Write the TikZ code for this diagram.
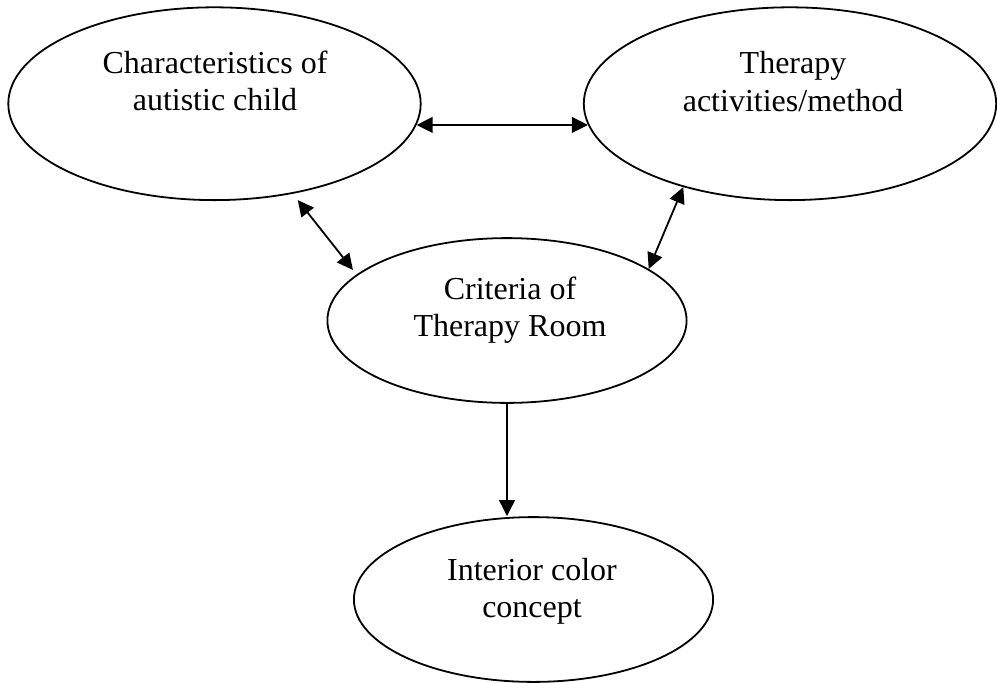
\documentclass[tikz,border=0pt]{standalone}
\usepackage{fontspec}
\setmainfont{Liberation Serif}
\usetikzlibrary{shapes.geometric,arrows.meta}

\tikzset{
  bubble/.style={draw, ellipse, line width=0.9pt, inner sep=0pt},
  bigbubble/.style={bubble, minimum width=206.2pt, minimum height=96.4pt},
  smallbubble/.style={bubble, minimum width=179.6pt, minimum height=82.4pt},
  lbl/.style={align=center, inner sep=0pt, font=\fontsize{16}{18.6}\selectfont},
  tip/.tip={Triangle[length=8pt,width=7.8pt]},
  link/.style={line width=0.9pt, -tip},
  dlink/.style={line width=0.9pt, tip-tip}
}

\begin{document}
\begin{tikzpicture}[x=0.5pt, y=-0.5pt]
  \useasboundingbox (0,0) rectangle (997,682);

  % Elipses
  \node[bigbubble] (child) at (214.5,103.7) {};
  \node[bigbubble] (method) at (790,103.7) {};
  \node[smallbubble] (room) at (507,320.5) {};
  \node[smallbubble] (color) at (533.5,599.5) {};

  % Textos
  \node[lbl] (childtxt) at (215,81) {Characteristics of\\autistic child};
  \node[lbl] (methodtxt) at (793,81.5) {Therapy\\activities/method};
  \node[lbl] (roomtxt) at (510,310.5) {Criteria of\\Therapy Room};
  \node[lbl] (colortxt) at (532,591.5) {Interior color\\concept};

  % Flechas
  \draw[dlink] (child.-6) -- (method.-174);
  \draw[dlink, shorten <=4pt, shorten >=2.9pt] (child.-49) -- (room.163);
  \draw[dlink] (method.-142) -- (room.20);
  \draw[link] (room.south) -- (room.south |- color.north);
\end{tikzpicture}
\end{document}
